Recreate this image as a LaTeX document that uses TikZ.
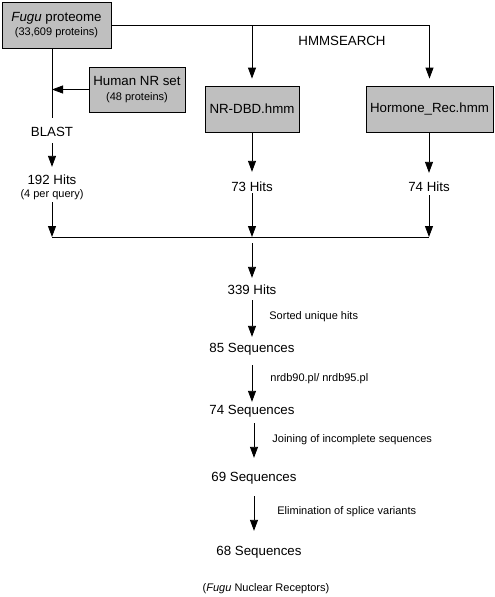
\documentclass[tikz,border=0pt]{standalone}
\usepackage{fontspec}
\setmainfont{Liberation Sans}
\usetikzlibrary{arrows.meta}
\newcommand\fmain{\fontsize{13.3}{15}\selectfont}
\newcommand\fsmall{\fontsize{11}{13}\selectfont}
\begin{document}
\begin{tikzpicture}[x=1pt,y=-1pt,
 line width=0.8pt,
 arr/.style={-{Triangle[length=11pt,width=8pt]}},
 box/.style={draw, fill=black!25, inner sep=0pt, align=center, font=\fmain},
 lbl/.style={inner sep=0pt, font=\fmain, text height=9.5pt, text depth=0pt},
 slbl/.style={inner sep=0pt, font=\fsmall, text height=7.9pt, text depth=0pt},
 steplbl/.style={slbl, anchor=west}]
\useasboundingbox (0,0) rectangle (495,597);

% boxes
\node[box, minimum width=109pt, minimum height=46pt] (fugu) at (56.5,25) {\textit{Fugu} proteome\\[-1.5pt]{\fsmall (33,609 proteins)}};
\node[box, minimum width=96pt, minimum height=45pt] (human) at (137,89.5) {Human NR set\\[0pt]{\fsmall (48 proteins)}};
\node[box, minimum width=94pt, minimum height=46pt] (nrdbd) at (252,109) {NR-DBD.hmm};
\node[box, minimum width=127pt, minimum height=46pt] (horm) at (429.5,109) {Hormone\_Rec.hmm};

% labels
\node[lbl] (hmm) at (342,41) {HMMSEARCH};
\node[lbl] (blast) at (52,132) {BLAST};
\node[lbl] (h192) at (52,180) {192 Hits};
\node[slbl] (q4) at (52,194) {(4 per query)};
\node[lbl] (h73) at (252,187) {73 Hits};
\node[lbl] (h74) at (429,187) {74 Hits};
\coordinate (m1) at (52,237);
\coordinate (m2) at (252,237);
\coordinate (m3) at (429,237);
\node[lbl] (h339) at (252,290) {339 Hits};
\node[lbl] (s85) at (252,348) {85 Sequences};
\node[lbl] (s74) at (252,410) {74 Sequences};
\node[lbl] (s69) at (254,477) {69 Sequences};
\node[lbl] (s68) at (259,551) {68 Sequences};
\node[slbl] (nr) at (266,588) {(\textit{Fugu} Nuclear Receptors)};

\node[steplbl] (st1) at (269,316) {Sorted unique hits};
\node[steplbl] (st2) at (270,378) {nrdb90.pl/ nrdb95.pl};
\node[steplbl] (st3) at (272,439) {Joining of incomplete sequences};
\node[steplbl] (st4) at (277,511) {Elimination of splice variants};

% connectors
\draw[arr, shorten >=7pt] (fugu.east) -| (horm.north);
\draw[arr, shorten >=7pt] (fugu.east -| nrdbd.north) -- (nrdbd.north);
\draw[shorten >=9pt] (fugu.south -| blast) -- (blast);
\draw[arr, shorten <=6pt, shorten >=8pt] (blast) -- (h192);
\draw[arr] (human.west) -- (human.west -| blast);
\draw[arr, shorten <=4pt] (q4) -- (m1);
\draw (m1) -- (m3);
\draw[arr, shorten >=10pt] (nrdbd) -- (h73);
\draw[arr, shorten <=1pt] (h73) -- (m2);
\draw[arr, shorten >=9pt] (horm.south -| h74) -- (h74);
\draw[arr, shorten <=3pt] (h74) -- (m3);
\draw[arr, shorten <=6pt, shorten >=7pt] (m2) -- (h339);
\draw[arr, shorten <=5pt, shorten >=6pt] (h339) -- (s85);
\draw[arr, shorten <=12pt, shorten >=3pt] (s85) -- (s74);
\draw[arr, shorten <=8pt, shorten >=14pt] (s74.south -| s69) -- (s69);
\draw[arr, shorten <=14pt, shorten >=15pt] (s69) -- (s69 |- s68.north);
\end{tikzpicture}
\end{document}
